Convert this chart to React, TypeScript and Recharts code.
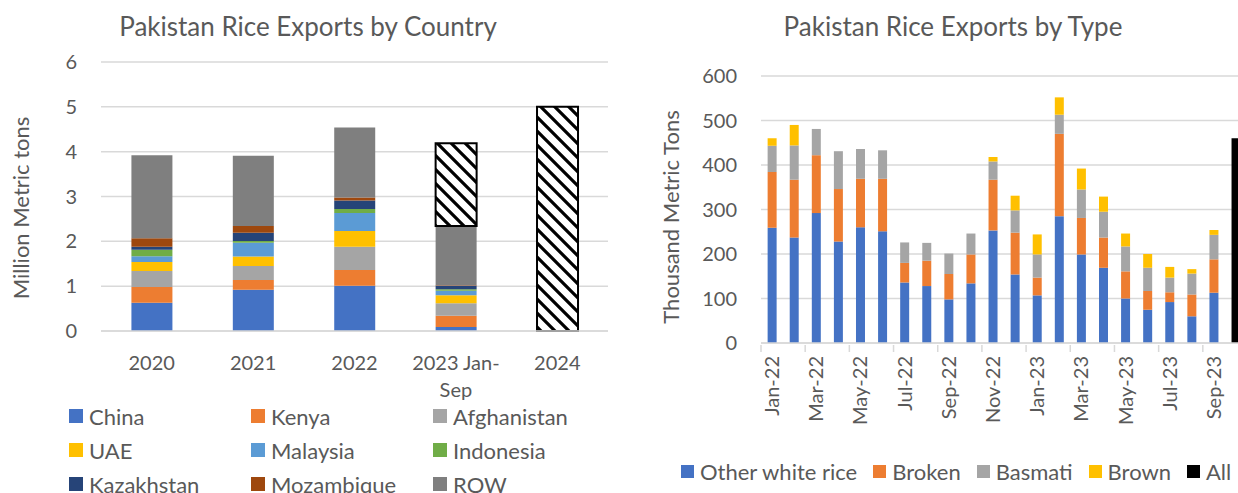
import { BarChart, Bar, XAxis, YAxis, CartesianGrid, Legend } from 'recharts'

// ---- left chart: exports by destination (million metric tons)
const years = ['2020', '2021', '2022', '2023 Jan-Sep', '2024']
const china = [0.63, 0.92, 1.01, 0.09, null]
const kenya = [0.35, 0.22, 0.35, 0.25, null]
const afghanistan = [0.36, 0.31, 0.52, 0.28, null]
const uae = [0.2, 0.21, 0.35, 0.18, null]
const malaysia = [0.13, 0.31, 0.4, 0.1, null]
const indonesia = [0.14, 0.04, 0.09, 0.03, null]
const kazakhstan = [0.07, 0.18, 0.19, 0.08, null]
const mozambique = [0.19, 0.15, 0.07, 0.01, null]
const rowCountries = [1.85, 1.57, 1.56, 1.32, null]
const forecast = [null, null, null, 1.85, 5.0]
const countryTicks = [0, 1, 2, 3, 4, 5, 6]

// ---- right chart: exports by type (thousand metric tons)
const months = [
  'Jan-22', 'Feb-22', 'Mar-22', 'Apr-22', 'May-22', 'Jun-22', 'Jul-22', 'Aug-22',
  'Sep-22', 'Oct-22', 'Nov-22', 'Dec-22', 'Jan-23', 'Feb-23', 'Mar-23', 'Apr-23',
  'May-23', 'Jun-23', 'Jul-23', 'Aug-23', 'Sep-23', 'Oct-23',
]
const otherWhite = [259, 237, 292, 228, 260, 251, 136, 128, 98, 134, 253, 154, 107, 285, 199, 169, 100, 75, 92, 60, 113, null]
const broken = [125, 130, 130, 118, 109, 118, 44, 57, 57, 65, 114, 94, 40, 185, 82, 68, 61, 42, 22, 49, 75, null]
const basmati = [59, 77, 59, 85, 67, 64, 46, 40, 46, 47, 41, 50, 52, 43, 64, 58, 56, 52, 33, 47, 55, null]
const brown = [17, 46, 0, 0, 0, 0, 0, 0, 0, 0, 10, 33, 45, 39, 47, 34, 29, 31, 24, 10, 11, null]
const allTypes = [null, null, null, null, null, null, null, null, null, null, null, null, null, null, null, null, null, null, null, null, null, 460]
const typeTicks = [0, 100, 200, 300, 400, 500, 600]

const countryData = years.map((year, i) => ({
  year,
  china: china[i],
  kenya: kenya[i],
  afghanistan: afghanistan[i],
  uae: uae[i],
  malaysia: malaysia[i],
  indonesia: indonesia[i],
  kazakhstan: kazakhstan[i],
  mozambique: mozambique[i],
  row: rowCountries[i],
  forecast: forecast[i],
}))

const typeData = months.map((month, i) => ({
  month,
  otherWhite: otherWhite[i],
  broken: broken[i],
  basmati: basmati[i],
  brown: brown[i],
  all: allTypes[i],
}))

const countrySeries = [
  { key: 'china', name: 'China', color: '#4472C4' },
  { key: 'kenya', name: 'Kenya', color: '#ED7D31' },
  { key: 'afghanistan', name: 'Afghanistan', color: '#A5A5A5' },
  { key: 'uae', name: 'UAE', color: '#FFC000' },
  { key: 'malaysia', name: 'Malaysia', color: '#5B9BD5' },
  { key: 'indonesia', name: 'Indonesia', color: '#70AD47' },
  { key: 'kazakhstan', name: 'Kazakhstan', color: '#264478' },
  { key: 'mozambique', name: 'Mozambique', color: '#9E480E' },
  { key: 'row', name: 'ROW', color: '#7F7F7F' },
]

const typeSeries = [
  { key: 'otherWhite', name: 'Other white rice', color: '#4472C4' },
  { key: 'broken', name: 'Broken', color: '#ED7D31' },
  { key: 'basmati', name: 'Basmati', color: '#A5A5A5' },
  { key: 'brown', name: 'Brown', color: '#FFC000' },
  { key: 'all', name: 'All', color: '#000000' },
]

const FONT = 'Lato, "Noto Sans", sans-serif'
const TEXT = '#595959'
const GRID = '#d9d9d9'

// right plot geometry (plot runs a little past the picture edge, like the original)
const R_PLOT_W = 486
const HALF_BAND = R_PLOT_W / months.length / 2

// legend keeps series order (recharts sorts by name otherwise)
function ordered(payload: any[], series: { name: string }[]) {
  const names = series.map((s) => s.name)
  return (payload || [])
    .filter((p) => names.includes(p.value))
    .sort((a, b) => names.indexOf(a.value) - names.indexOf(b.value))
}

function YearTick({ x, y, payload }: any) {
  const label = String(payload.value)
  // "2023 Jan-Sep" wraps after the hyphen like in Excel
  const cut = label.indexOf('-')
  const lines = label.length > 8 && cut > 0 ? [label.slice(0, cut + 1), label.slice(cut + 1)] : [label]
  return (
    <text x={x} y={y} textAnchor="middle" fill={TEXT} fontSize={20} fontFamily={FONT}>
      {lines.map((l, i) => (
        <tspan key={i} x={x} dy={i === 0 ? 37 : 27}>
          {l}
        </tspan>
      ))}
    </text>
  )
}

function MonthTick({ x, y, payload }: any) {
  return (
    <g>
      <line x1={x - HALF_BAND} x2={x - HALF_BAND} y1={y} y2={y + 7} stroke={GRID} strokeWidth={1.5} />
      <text
        transform={`translate(${x + 7},${y + 11}) rotate(-90)`}
        textAnchor="end"
        fill={TEXT}
        fontSize={20}
        fontFamily={FONT}
      >
        {payload.value}
      </text>
    </g>
  )
}

function CountryLegend({ payload }: any) {
  const items = ordered(payload, countrySeries)
  return (
    <div
      style={{
        display: 'grid',
        gridTemplateColumns: '182px 182px 182px',
        gridAutoRows: '34px',
        paddingLeft: 69,
        fontFamily: FONT,
        fontSize: 22,
        color: TEXT,
      }}
    >
      {items.map((p: any) => (
        <div key={p.value} style={{ display: 'flex', alignItems: 'center', whiteSpace: 'nowrap' }}>
          <span style={{ width: 14, height: 14, background: p.color, marginRight: 6, flex: 'none' }} />
          {p.value}
        </div>
      ))}
    </div>
  )
}

function TypeLegend({ payload }: any) {
  const items = ordered(payload, typeSeries)
  return (
    <div
      style={{
        display: 'flex',
        alignItems: 'center',
        paddingLeft: 41,
        fontFamily: FONT,
        fontSize: 22,
        color: TEXT,
        whiteSpace: 'nowrap',
      }}
    >
      {items.map((p: any) => (
        <div key={p.value} style={{ display: 'flex', alignItems: 'center', marginRight: 16 }}>
          <span style={{ width: 13, height: 13, background: p.color, marginRight: 6, flex: 'none' }} />
          {p.value}
        </div>
      ))}
    </div>
  )
}

const titleStyle = {
  position: 'absolute' as const,
  top: 10,
  fontFamily: FONT,
  fontSize: 26,
  color: TEXT,
  textAlign: 'center' as const,
  whiteSpace: 'nowrap' as const,
}

export default function App() {
  return (
    <div
      style={{
        position: 'absolute',
        left: 0,
        top: 0,
        width: 1238,
        height: 493,
        overflow: 'hidden',
        background: '#fff',
      }}
    >
      {/* left: by country */}
      <div style={{ position: 'absolute', left: 0, top: 0 }}>
        <BarChart
          width={620}
          height={493}
          data={countryData}
          margin={{ top: 62, right: 12, bottom: 102, left: 41 }}
          barCategoryGap="30%"
        >
          <defs>
            <pattern id="hatch" patternUnits="userSpaceOnUse" width="14" height="14">
              <rect width="14" height="14" fill="#fff" />
              <path d="M-2,-2 L16,16 M-2,12 L2,16 M12,-2 L16,2" stroke="#000" strokeWidth="3.2" />
            </pattern>
          </defs>
          <CartesianGrid vertical={false} stroke={GRID} strokeWidth={1.5} />
          <XAxis
            dataKey="year"
            height={60}
            interval={0}
            axisLine={{ stroke: GRID, strokeWidth: 1.5 }}
            tickLine={false}
            tickSize={0}
            tick={<YearTick />}
          />
          <YAxis
            width={60}
            domain={[0, 6]}
            ticks={countryTicks}
            axisLine={false}
            tickLine={false}
            tickSize={0}
            tickMargin={24}
            tick={{ fill: TEXT, fontSize: 20, fontFamily: FONT }}
            label={{
              content: () => (
                <text
                  transform="translate(20,208) rotate(-90)"
                  textAnchor="middle"
                  dominantBaseline="central"
                  fill={TEXT}
                  fontSize={22}
                  fontFamily={FONT}
                >
                  Million Metric tons
                </text>
              ),
            }}
          />
          <Legend
            layout="horizontal"
            verticalAlign="middle"
            align="center"
            wrapperStyle={{ top: 399, left: 0, width: 620, height: 94 }}
            content={<CountryLegend />}
          />
          {countrySeries.map((s) => (
            <Bar key={s.key} dataKey={s.key} name={s.name} stackId="a" fill={s.color} isAnimationActive={false} />
          ))}
          <Bar
            dataKey="forecast"
            name="Forecast"
            stackId="a"
            fill="url(#hatch)"
            stroke="#000"
            strokeWidth={2}
            legendType="none"
            isAnimationActive={false}
          />
        </BarChart>
      </div>
      <div style={{ ...titleStyle, left: 108, width: 400 }}>Pakistan Rice Exports by Country</div>

      {/* right: by type */}
      <div style={{ position: 'absolute', left: 640, top: 0 }}>
        <BarChart
          width={640}
          height={493}
          data={typeData}
          margin={{ top: 76, right: 640 - 121 - R_PLOT_W, bottom: 50, left: 61 }}
          barCategoryGap="30%"
        >
          <CartesianGrid vertical={false} stroke={GRID} strokeWidth={1.5} />
          <XAxis
            dataKey="month"
            height={100}
            interval={1}
            axisLine={{ stroke: GRID, strokeWidth: 1.5 }}
            tickLine={false}
            tickSize={0}
            tick={<MonthTick />}
          />
          <YAxis
            width={60}
            domain={[0, 600]}
            ticks={typeTicks}
            axisLine={false}
            tickLine={false}
            tickSize={0}
            tickMargin={24}
            tick={{ fill: TEXT, fontSize: 20, fontFamily: FONT }}
            label={{
              content: () => (
                <text
                  transform="translate(30,217) rotate(-90)"
                  textAnchor="middle"
                  dominantBaseline="central"
                  fill={TEXT}
                  fontSize={22}
                  fontFamily={FONT}
                >
                  Thousand Metric Tons
                </text>
              ),
            }}
          />
          <Legend
            layout="horizontal"
            verticalAlign="middle"
            align="center"
            wrapperStyle={{ top: 458, left: 0, width: 640, height: 30 }}
            content={<TypeLegend />}
          />
          {typeSeries.map((s) => (
            <Bar key={s.key} dataKey={s.key} name={s.name} stackId="t" fill={s.color} isAnimationActive={false} />
          ))}
        </BarChart>
      </div>
      <div style={{ ...titleStyle, left: 753, width: 400 }}>Pakistan Rice Exports by Type</div>
    </div>
  )
}
